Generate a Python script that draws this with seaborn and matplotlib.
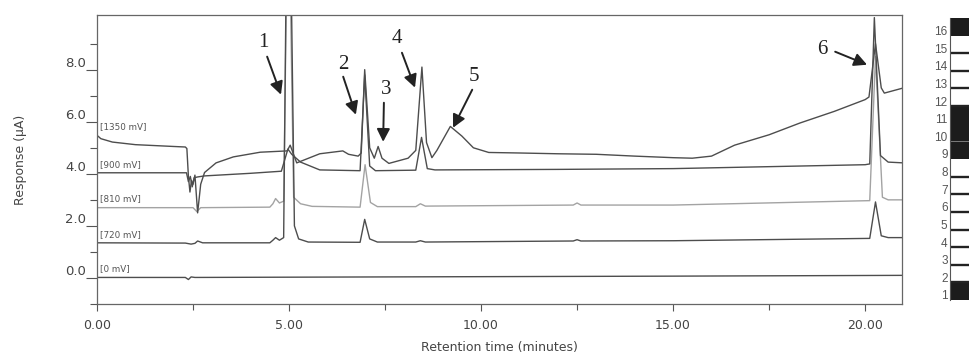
import matplotlib
matplotlib.use("Agg")
import matplotlib.pyplot as plt
from matplotlib.ticker import MultipleLocator, FixedLocator
import seaborn as sns
import pandas as pd

# ---------------- data ----------------
trace_names = ["[810 mV]", "[0 mV]", "[720 mV]", "[900 mV]", "[1350 mV]"]

t0 = [0, 2.3, 2.38, 2.45, 2.55, 5.0, 10.0, 15.0, 21.0]
r0 = [0.02, 0.02, -0.06, 0.04, 0.02, 0.03, 0.05, 0.07, 0.1]

t720 = [0, 2.3, 2.45, 2.55, 2.62, 2.75, 4.5, 4.58, 4.65, 4.75, 4.86, 4.98, 5.14, 5.25, 5.5,
        6.85, 6.97, 7.1, 7.3, 8.3, 8.42, 8.55, 12.4, 12.5, 12.6, 15.0,
        20.12, 20.27, 20.42, 20.6, 21.0]
r720 = [1.35, 1.34, 1.3, 1.33, 1.42, 1.35, 1.35, 1.45, 1.55, 1.45, 1.55, 20.0, 2.0, 1.5, 1.38,
        1.37, 2.25, 1.5, 1.38, 1.38, 1.43, 1.38, 1.42, 1.47, 1.42, 1.43,
        1.52, 2.92, 1.62, 1.55, 1.55]

t810 = [0, 2.5, 2.6, 2.7, 4.5, 4.58, 4.65, 4.75, 4.86, 4.98, 5.12, 5.3, 5.6,
        6.85, 6.98, 7.12, 7.3, 8.3, 8.42, 8.55, 12.4, 12.5, 12.6, 15.0,
        20.12, 20.27, 20.45, 20.6, 21.0]
r810 = [2.7, 2.7, 2.55, 2.7, 2.72, 2.85, 3.05, 2.88, 2.95, 16.0, 3.1, 2.85, 2.75,
        2.72, 4.35, 2.9, 2.74, 2.74, 2.85, 2.76, 2.8, 2.88, 2.8, 2.8,
        2.97, 8.5, 3.1, 3.0, 3.0]

t900 = [0, 2.33, 2.38, 2.43, 2.48, 2.53, 2.62, 2.8, 4.0, 4.8, 4.97, 5.07, 5.3, 5.8,
        6.85, 6.97, 7.1, 7.25, 8.3, 8.45, 8.6, 8.8, 12.0, 15.0, 20.0,
        20.12, 20.24, 20.4, 20.6, 21.0]
r900 = [4.04, 4.04, 3.7, 3.9, 3.5, 3.85, 3.88, 3.92, 4.02, 4.1, 4.95, 4.75, 4.45, 4.15,
        4.12, 7.8, 4.3, 4.12, 4.14, 5.4, 4.2, 4.15, 4.17, 4.2, 4.35,
        4.38, 10.0, 4.7, 4.45, 4.42]

t1350 = [0, 0.1, 0.4, 1.0, 2.0, 2.3, 2.34, 2.38, 2.42, 2.46, 2.5, 2.55, 2.62, 2.7,
         2.8, 3.1, 3.55, 4.25, 4.95, 5.03, 5.2, 5.8, 6.4, 6.55, 6.8, 6.88, 6.97, 7.1,
         7.22, 7.32, 7.42, 7.6, 8.1, 8.3, 8.46, 8.58, 8.72, 8.85, 9.2, 9.5, 9.8, 10.2,
         11.0, 12.0, 13.0, 14.0, 15.0, 15.5, 16.0, 16.6, 17.5, 18.3, 19.2, 20.0, 20.1,
         20.27, 20.42, 20.5, 21.0]
r1350 = [5.48, 5.35, 5.22, 5.12, 5.05, 5.03, 4.97, 3.9, 3.3, 3.75, 3.6, 3.95, 2.5, 3.6,
         4.05, 4.42, 4.65, 4.83, 4.88, 5.1, 4.42, 4.77, 4.88, 4.75, 4.68, 4.8, 8.0, 5.0,
         4.6, 5.05, 4.6, 4.4, 4.6, 4.9, 8.1, 5.2, 4.62, 4.9, 5.82, 5.45, 5.0, 4.82,
         4.8, 4.77, 4.75, 4.68, 4.62, 4.6, 4.68, 5.1, 5.5, 5.95, 6.4, 6.85, 6.95,
         9.0, 7.3, 7.1, 7.3]

trace_times = [t810, t0, t720, t900, t1350]
trace_values = [r810, r0, r720, r900, r1350]
trace_colors = ["#a3a3a3", "#4d4d4d", "#4d4d4d", "#4d4d4d", "#4d4d4d"]

x_ticks = [0, 5, 10, 15, 20]
x_tick_labels = ["0.00", "5.00", "10.00", "15.00", "20.00"]
y_ticks = [0, 2, 4, 6, 8]
y_tick_labels = ["0.0", "2.0", "4.0", "6.0", "8.0"]

peak_labels = ["1", "2", "3", "4", "5", "6"]
peak_text_xy = [(4.32, 9.04), (6.41, 8.19), (7.53, 7.23), (7.81, 9.19), (9.82, 7.73), (18.88, 8.77)]
peak_tail_xy = [(4.43, 8.5), (6.41, 7.73), (7.47, 6.73), (7.94, 8.65), (9.77, 7.23), (19.22, 8.69)]
peak_tip_xy = [(4.79, 7.04), (6.74, 6.27), (7.45, 5.23), (8.28, 7.31), (9.27, 5.77), (20.05, 8.19)]

panel_rows = list(range(1, 17))
panel_dark = [1, 0, 0, 0, 0, 0, 0, 0, 1, 1, 1, 0, 0, 0, 0, 1]

# ---------------- drawing ----------------
sns.set_style("ticks")
plt.rcParams["font.family"] = ["DejaVu Sans"]

fig = plt.figure(figsize=(9.69, 3.56), dpi=100)
ax = fig.add_axes([97 / 969, 1 - 304 / 356, 805 / 969, 289 / 356])

for name, tt, vv, col in zip(trace_names, trace_times, trace_values, trace_colors):
    df = pd.DataFrame({"time": tt, "resp": vv})
    sns.lineplot(data=df, x="time", y="resp", ax=ax, color=col, lw=1.0,
                 estimator=None, sort=False)
    ax.text(0.08, vv[0] + 0.33, name, fontsize=6.3, color="#555555",
            ha="left", va="center")

ax.set_xlim(0, 20.96)
ax.set_ylim(-1.0, 10.1)
ax.xaxis.set_major_locator(FixedLocator(x_ticks))
ax.set_xticklabels(x_tick_labels)
ax.xaxis.set_minor_locator(MultipleLocator(2.5))
ax.yaxis.set_major_locator(FixedLocator(y_ticks))
ax.set_yticklabels(y_tick_labels)
ax.yaxis.set_minor_locator(FixedLocator([-1, 1, 3, 5, 7, 9]))

ax.tick_params(axis="both", which="major", direction="out", color="#555555",
               labelcolor="#444444", labelsize=9, width=0.8)
ax.tick_params(axis="y", which="major", length=8, pad=0, labelsize=9.5)
ax.tick_params(axis="y", which="minor", length=5, color="#555555", width=0.8)
ax.tick_params(axis="x", which="major", length=5, pad=6)
ax.tick_params(axis="x", which="minor", length=4, color="#555555", width=0.8)
for lab in ax.get_yticklabels():
    lab.set_va("bottom")

for sp in ax.spines.values():
    sp.set_visible(True)
    sp.set_color("#666666")
    sp.set_linewidth(0.9)

ax.set_xlabel("Retention time (minutes)", fontsize=9, color="#444444")
ax.set_ylabel("Response (\u03bcA)", fontsize=9, color="#444444")
ax.xaxis.set_label_coords(0.5, -0.128)
ax.yaxis.set_label_coords(-0.087, 0.5)

for lab, txy, tail, tip in zip(peak_labels, peak_text_xy, peak_tail_xy, peak_tip_xy):
    ax.text(txy[0], txy[1], lab, fontsize=15, family="Liberation Serif",
            color="#222222", ha="center", va="center")
    ax.annotate("", xy=tip, xytext=tail,
                arrowprops=dict(arrowstyle="-|>,head_length=0.55,head_width=0.28",
                                mutation_scale=14, lw=1.4, color="#222222",
                                shrinkA=0, shrinkB=0))

# ---------------- right-hand panel ----------------
ax2 = fig.add_axes([950 / 969, 1 - 300 / 356, 40 / 969, 282 / 356])
ax2.set_xlim(0, 1)
ax2.set_ylim(0.5, 16.5)
ax2.barh(panel_rows, [1] * len(panel_rows), height=1.0, left=0,
         color=["#1c1c1c" if d else "white" for d in panel_dark], linewidth=0)
for r, d in zip(panel_rows, panel_dark):
    if not d:
        ax2.hlines(r - 0.5, 0, 1, color="#222222", lw=1.7)
ax2.hlines(9.5, 0, 1, color="#8a8a8a", lw=0.6)
for sp in ["top", "right", "bottom"]:
    ax2.spines[sp].set_visible(False)
ax2.spines["left"].set_color("#555555")
ax2.spines["left"].set_linewidth(0.8)
ax2.set_xticks([])
ax2.set_yticks([])
for r in panel_rows:
    ax2.text(-0.06, r - 0.3, str(r), fontsize=8.5, family="Liberation Sans",
             color="#555555", ha="right", va="center", clip_on=False)

fig.savefig("out.png", dpi=100)
